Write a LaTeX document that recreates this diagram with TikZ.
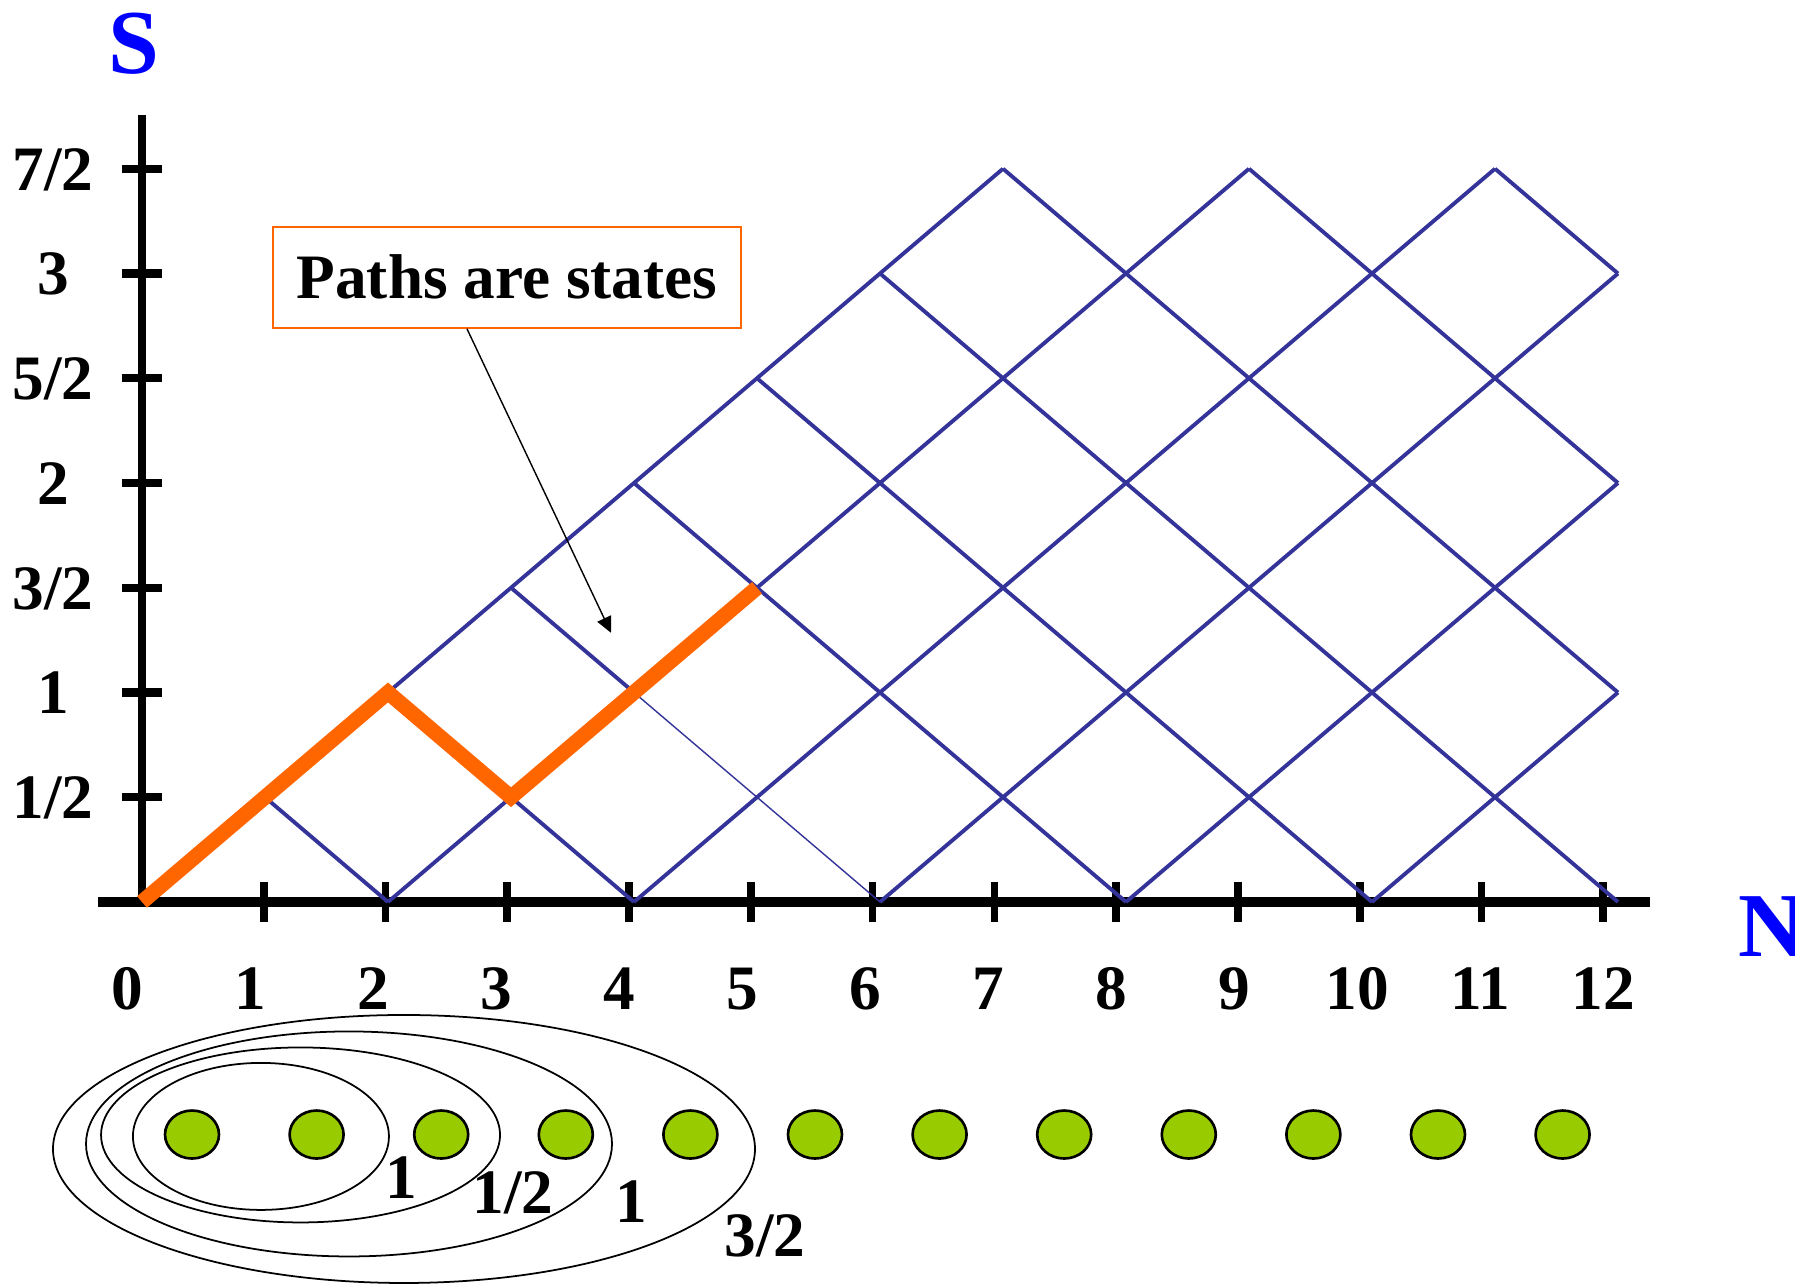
\documentclass[tikz,border=0pt]{standalone}
\usepackage{fontspec}
\setmainfont{Liberation Serif}
\usepackage{xcolor}
\usetikzlibrary{arrows.meta,shapes.geometric}
\definecolor{latticeblue}{RGB}{51,51,153}
\definecolor{pathorange}{RGB}{255,102,0}
\definecolor{dotgreen}{RGB}{153,204,0}
\definecolor{axisblue}{RGB}{0,0,255}

\begin{document}
\begin{tikzpicture}[x=1.23cm, y=2.095cm,
    every node/.style={font=\fontsize{18}{20}\selectfont\bfseries, text height=12.2pt, text depth=0pt, inner sep=0pt},
    lattice/.style={latticeblue, line width=1.1pt},
    statepath/.style={pathorange, line width=4.3pt, line join=miter},
    axisline/.style={black, line width=3pt},
    tickmark/.style={black, line width=2.2pt},
    ring/.style={black, line width=0.5pt},
    site/.style={ellipse, draw=black, line width=0.75pt, fill=dotgreen, text height=0pt, text depth=0pt, minimum width=0.54cm, minimum height=0.48cm},
    pointer/.style={-{Triangle[length=4.5pt,width=4.3pt]}, line width=0.4pt},
    axislabel/.style={text=axisblue, font=\fontsize{26}{28}\selectfont\bfseries, text height=17.2pt}]
    \useasboundingbox (-1.1545,-1.8282) rectangle (13.439,4.3055);
    % -------------------------
    % Axes and ticks
    % -------------------------
    \draw[axisline] (-0.355,0) -- (12.26,0);
    \draw[axisline, line width=2.4pt] (0,0) -- (0,3.757);
    \foreach \y in {0.5,1,...,3.5}
        \draw[tickmark, line width=2.4pt] (-0.163,\y) -- (0.163,\y);
    \foreach \n in {1,...,12}
        \draw[tickmark] (0.99*\n,0.0955) -- (0.99*\n,-0.0955);

    % tick labels
    \foreach \y/\t [count=\i] in {0.5/{1/2},1/1,1.5/{3/2},2/2,2.5/{5/2},3/3,3.5/{7/2}}
        \node (s\i) at (-0.724,\y) {\t};
    \foreach \n in {0,...,12}
        \node (n\n) at (\n-0.12,-0.41) {\n};
    \node[axislabel] (S) at (-0.065,4.099) {S};
    \node[axislabel] (N) at (13.25,-0.118) {N};

    % -------------------------
    % Lattice of spin paths
    % -------------------------
    \foreach \xa/\ya/\xb/\yb in {0/0/7/3.5, 2/0/9/3.5, 4/0/11/3.5, 6/0/12/3, 8/0/12/2, 10/0/12/1,
            1/0.5/2/0, 2/1/4/0, 3/1.5/4/1, 4/2/8/0, 5/2.5/10/0, 6/3/12/0, 7/3.5/12/1, 9/3.5/12/2, 11/3.5/12/3}
        \draw[lattice] (\xa,\ya) -- (\xb,\yb);
    \draw[lattice, line width=0.4pt] (4,1) -- (6,0);

    % one path picked out
    \draw[statepath] (0,0) -- (1,0.5) -- (2,1) -- (3,0.5) -- (4,1) -- (5,1.5);

    % -------------------------
    % Callout
    % -------------------------
    \node[draw=pathorange, line width=0.45pt, minimum width=4.68cm, minimum height=1.01cm] (box) at (2.967,2.981) {Paths are states};
    \coordinate (tip) at (3.813,1.285);
    \draw[pointer] ([xshift=-0.4cm]box.south) -- (tip);

    % -------------------------
    % Spins and nested couplings
    % -------------------------
    \draw[ring] (0.967,-1.119) ellipse [x radius=1.28cm, y radius=0.735cm];
    \draw[ring] (1.289,-1.112) ellipse [x radius=1.995cm, y radius=0.875cm];
    \draw[ring] (1.683,-1.155) ellipse [x radius=2.63cm, y radius=1.125cm];
    \draw[ring] (2.130,-1.179) ellipse [x radius=3.51cm, y radius=1.34cm];

    \foreach \i in {1,...,12}
        \node[site] (d\i) at ({0.4065+1.013*(\i-1)},-1.110) {};

    \node (r1) at (2.106,-1.313) {1};
    \node (r2) at (3.016,-1.384) {1/2};
    \node (r3) at (3.976,-1.427) {1};
    \node (r4) at (5.065,-1.589) {3/2};

\end{tikzpicture}
\end{document}
